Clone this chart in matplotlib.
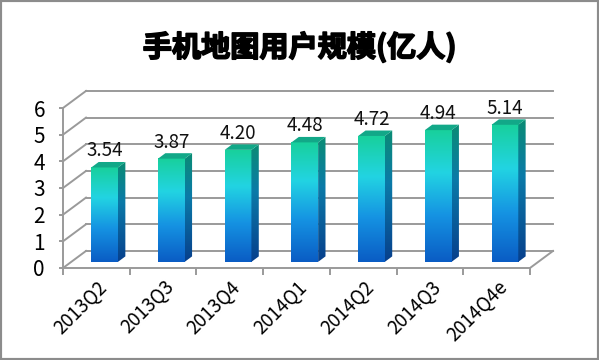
import matplotlib.pyplot as plt
import matplotlib.patheffects as pe
import numpy as np
from matplotlib.colors import LinearSegmentedColormap
from matplotlib.patches import Polygon, Rectangle

plt.rcParams['font.family'] = ['Noto Sans CJK SC', 'DejaVu Sans']

title = '手机地图用户规模(亿人)'
categories = ['2013Q2', '2013Q3', '2013Q4', '2014Q1', '2014Q2', '2014Q3', '2014Q4e']
values = [3.54, 3.87, 4.20, 4.48, 4.72, 4.94, 5.14]
y_ticks = [0, 1, 2, 3, 4, 5, 6]

# pseudo 3d geometry (data units)
depth_dx, depth_dy = 0.345, 0.64
d0, d1 = 0.36, 0.68
bar_w = 0.40
grid_col = '#9a9a9a'

front_cmap = LinearSegmentedColormap.from_list(
    'front', [(0, '#0a5cc4'), (0.35, '#1592e2'), (0.68, '#22d4e2'), (1, '#18d09c')])
side_cmap = LinearSegmentedColormap.from_list(
    'side', [(0, '#073f8c'), (0.6, '#0b7aa8'), (1, '#0a8c74')])
top_col = '#12a888'

fig = plt.figure(figsize=(5.99, 3.6), dpi=100)
ax = fig.add_axes([63 / 599, 92 / 360, 467 / 599, 160 / 360])
n = len(categories)
ax.set_xlim(0, n)
ax.set_ylim(0, 6)

# back wall + left wall
for t in y_ticks:
    ax.plot([depth_dx, n + depth_dx], [t + depth_dy, t + depth_dy], color=grid_col, lw=1.4, clip_on=False, zorder=1)
    ax.plot([0, depth_dx], [t, t + depth_dy], color=grid_col, lw=1.4, clip_on=False, zorder=1)
ax.plot([n, n + depth_dx], [0, depth_dy], color=grid_col, lw=1.4, clip_on=False, zorder=1)

grad = np.linspace(0, 1, 256).reshape(-1, 1)
for i, v in enumerate(values):
    x0 = i + 0.5 - bar_w / 2 + d0 * depth_dx
    x1 = x0 + bar_w
    yb = d0 * depth_dy
    ax.imshow(grad, cmap=front_cmap, origin='lower', aspect='auto',
              extent=(x0, x1, yb, v + yb), zorder=3)
    sx = (d1 - d0) * depth_dx
    sy = (d1 - d0) * depth_dy
    side = Polygon([(x1, yb), (x1 + sx, yb + sy), (x1 + sx, v + yb + sy), (x1, v + yb)],
                   closed=True, facecolor='none', edgecolor='none')
    ax.add_patch(side)
    im = ax.imshow(grad, cmap=side_cmap, origin='lower', aspect='auto',
                   extent=(x1, x1 + sx, yb, v + yb + sy), zorder=3)
    im.set_clip_path(side)
    ax.add_patch(Polygon([(x0, v + yb), (x1, v + yb), (x1 + sx, v + yb + sy), (x0 + sx, v + yb + sy)],
                         closed=True, facecolor=top_col, edgecolor='none', zorder=3))
    ax.text((x0 + x1) / 2, v + yb + 0.62, f'{v:.2f}', ha='center', va='center',
            fontsize=13.5, color='#111111', zorder=4)

ax.set_xlim(0, n)
ax.set_ylim(0, 6)

for s in ['top', 'right']:
    ax.spines[s].set_visible(False)
for s in ['left', 'bottom']:
    ax.spines[s].set_color(grid_col)
    ax.spines[s].set_linewidth(1.4)

ax.set_yticks(y_ticks)
ax.set_yticklabels([str(t) for t in y_ticks], fontsize=15)
ax.set_xticks(np.arange(n + 1))
ax.set_xticklabels([])
ax.set_xticks(np.arange(n) + 0.5, minor=True)
ax.set_xticklabels(categories, minor=True, rotation=45, ha='right', va='top',
                   rotation_mode='anchor', fontsize=13.5)
ax.tick_params(axis='x', which='major', length=5, color=grid_col, width=1.4)
ax.tick_params(axis='x', which='minor', length=0, pad=6)
ax.tick_params(axis='y', length=3, color=grid_col, width=1.4, pad=10)

fig.text(0.5, 1 - 47 / 360, title, ha='center', va='center', fontsize=21, fontweight='bold',
         color='#000000', path_effects=[pe.withStroke(linewidth=1.2, foreground='#000000')])

fig.patches.append(Rectangle((0, 0), 1, 1, transform=fig.transFigure, fill=False,
                             edgecolor='#8c8c8c', lw=3))

fig.savefig('out.png', dpi=100)
